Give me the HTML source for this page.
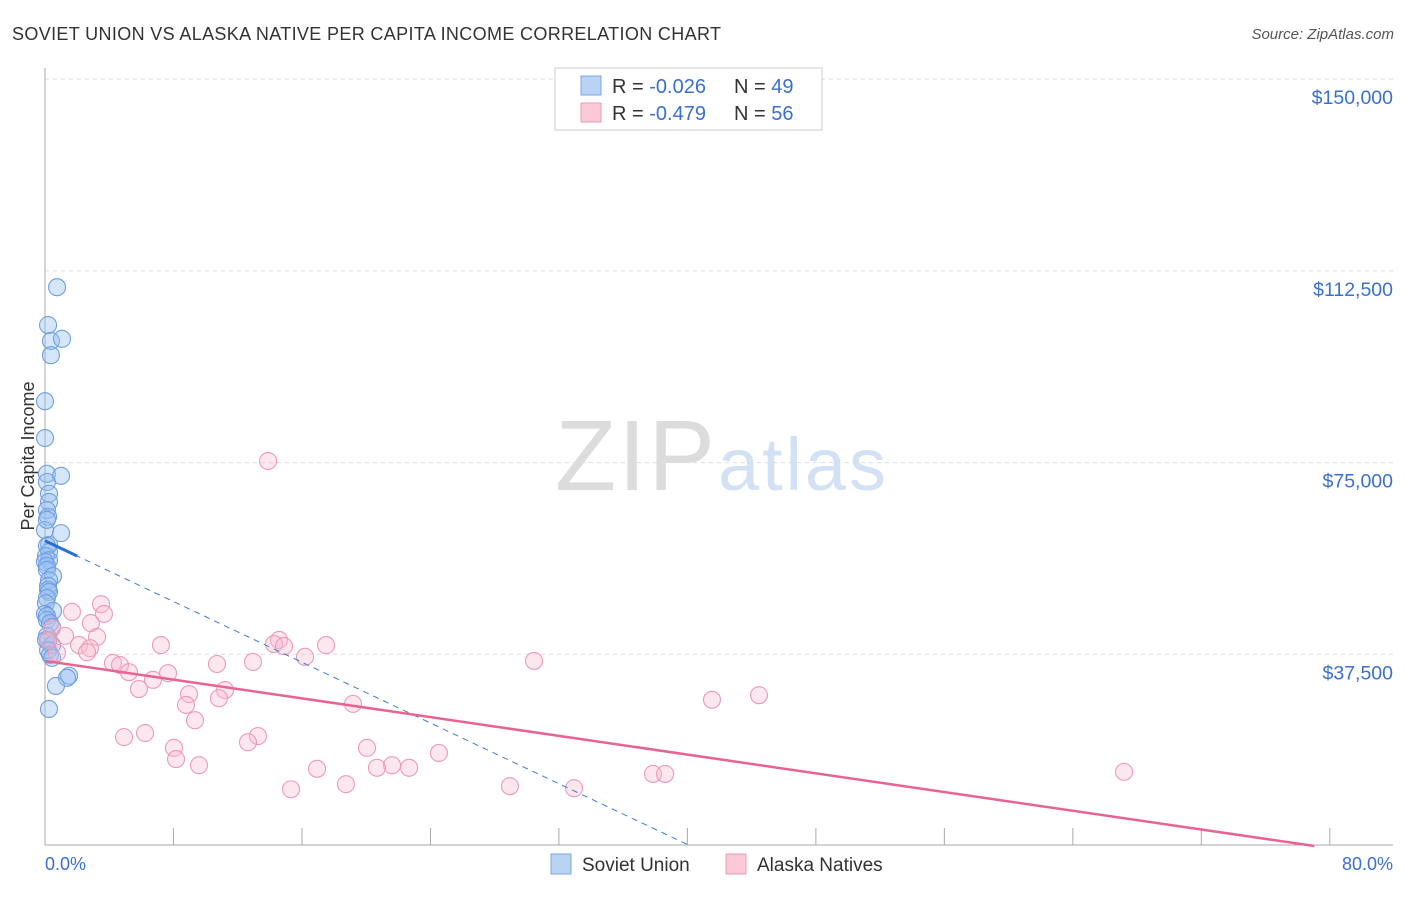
<!DOCTYPE html>
<html><head><meta charset="utf-8"><style>
body{margin:0;background:#fff;font-family:"Liberation Sans",sans-serif;}
svg text{font-family:"Liberation Sans",sans-serif;}
</style></head><body>
<svg id="chart" width="1406" height="892">
<text x="12" y="40" font-size="18" fill="#333" textLength="709">SOVIET UNION VS ALASKA NATIVE PER CAPITA INCOME CORRELATION CHART</text>
<text x="1394" y="39" font-size="15" fill="#555" text-anchor="end" font-style="italic">Source: ZipAtlas.com</text>
<text x="555" y="490" font-size="100" fill="#dcdcdc" textLength="160" font-family="Liberation Serif">ZIP</text>
<text x="718" y="490" font-size="74" fill="#d3e1f5" textLength="168">atlas</text>
<g id="grid"></g><g id="marks"></g>
<text transform="translate(34,456) rotate(-90)" font-size="18" fill="#333" text-anchor="middle">Per Capita Income</text>
<text x="45" y="870" font-size="18" fill="#3b6fd0">0.0%</text>
<text x="1393" y="870" font-size="18" fill="#3b6fd0" text-anchor="end">80.0%</text>
<g>
<rect x="555" y="68" width="267" height="62" fill="#fff" stroke="#ccc"/>
<rect x="581" y="76" width="20" height="19" fill="#b9d3f5" stroke="#7ba6e0"/>
<rect x="581" y="103" width="20" height="19" fill="#fbc9d8" stroke="#ee9ab5"/>
<text x="612" y="93" font-size="20" fill="#333">R = <tspan fill="#3b6fd0">-0.026</tspan><tspan x="734">N = </tspan><tspan fill="#3b6fd0">49</tspan></text>
<text x="612" y="120" font-size="20" fill="#333">R = <tspan fill="#3b6fd0">-0.479</tspan><tspan x="734">N = </tspan><tspan fill="#3b6fd0">56</tspan></text>
</g>
<g>
<rect x="551" y="854" width="20" height="20" fill="#b9d3f5" stroke="#7ba6e0"/>
<text x="582" y="871" font-size="19" fill="#333">Soviet Union</text>
<rect x="726" y="854" width="20" height="20" fill="#fbc9d8" stroke="#ee9ab5"/>
<text x="757" y="871" font-size="19" fill="#333">Alaska Natives</text>
</g>
</svg>
<script>
const yTicks=[37500,75000,112500,150000];
const yTickLabels=["$37,500","$75,000","$112,500","$150,000"];
const blueX=[0.75,0.19,0.37,1.06,0.37,0,0,0.12,1.0,0.12,0.25,0.25,0.12,0.19,1.0,0,0.12,0.25,0.12,0.25,0.06,0.25,0,0.12,0.12,0.5,0.25,0.19,0.19,0.25,0.12,0.06,0.5,0,0.12,0.12,0.31,0.44,0.12,0.06,0.19,0.44,0.19,0.31,0.44,1.5,1.37,0.68,0.25];
const blueY=[109300,101900,98800,99200,96000,87000,79800,72800,72400,71200,68900,67300,65700,64400,61200,61800,63800,58900,58700,57500,56700,55900,55600,54800,54000,52800,52000,50900,50100,49700,48500,47500,46000,45400,45000,44200,43600,42800,41100,40300,40100,39300,38300,37400,36800,33300,32900,31300,26800];
const pinkX=[13.89,3.49,1.68,3.67,2.86,0.44,3.24,1.25,14.57,14.26,7.22,17.5,14.88,2.12,2.8,2.62,0.75,16.19,30.45,4.23,4.67,10.71,12.95,5.23,7.66,6.72,5.85,11.21,8.97,10.83,44.46,41.53,8.78,19.18,9.34,6.23,4.92,13.26,12.64,8.03,20.05,24.53,8.16,9.59,21.61,20.67,22.67,16.94,67.19,37.86,38.61,18.74,28.95,32.94,15.32,0.19];
const pinkY=[75300,47300,45800,45400,43600,42600,40900,41100,40300,39500,39300,39300,39100,39300,38700,37900,37800,37000,36200,35800,35400,35600,36000,34000,33800,32500,30700,30500,29700,28900,29500,28600,27600,27800,24600,22100,21300,21500,20300,19200,19200,18200,17000,15800,15800,15300,15300,15100,14500,14100,14100,12100,11700,11300,11100,40300];
const blueTrend=[59700,-1485];
const pinkTrend=[36200,-458];
const NS="http://www.w3.org/2000/svg";
const sx=v=>45+v*16.06, sy=v=>846-v/195.6;
function mk(t,a,p){const e=document.createElementNS(NS,t);for(const k in a)e.setAttribute(k,a[k]);p.appendChild(e);return e;}
const grid=document.getElementById('grid'), marks=document.getElementById('marks');
yTicks.forEach((t,i)=>{
 const l=mk('line',{x1:45,x2:1393,y1:sy(t),y2:sy(t),stroke:'#ddd','stroke-dasharray':'4,4'},grid);
 
 
 const tx=mk('text',{x:1393,y:sy(t)+25,'font-size':19.5,fill:'#3b6fd0','text-anchor':'end'},grid);
 tx.textContent=yTickLabels[i];
 
 
});
let ax=mk('line',{x1:45,x2:45,y1:68,y2:845,stroke:'#aaa'},grid);


ax=mk('line',{x1:45,x2:1393,y1:845,y2:845,stroke:'#aaa'},grid);


for(let i=1;i<=10;i++){const t=mk('line',{x1:sx(i*8),x2:sx(i*8),y1:828,y2:845,stroke:'#aaa'},grid);
 
 }
blueX.forEach((x,i)=>{const c=mk('circle',{cx:sx(x),cy:sy(blueY[i]),r:8.5,fill:'rgba(150,190,242,0.4)',stroke:'#6f9fe0','stroke-width':1.1},marks);
 
 });
pinkX.forEach((x,i)=>{const c=mk('circle',{cx:sx(x),cy:sy(pinkY[i]),r:8.5,fill:'rgba(248,185,205,0.35)',stroke:'#ee9ab5','stroke-width':1.1},marks);
 
 });
const bEnd=-blueTrend[0]/blueTrend[1];
let ln=mk('line',{x1:sx(0),y1:sy(blueTrend[0]),x2:sx(bEnd),y2:sy(0),stroke:'#3b7bd8','stroke-width':1,'stroke-dasharray':'6,5'},marks);


ln=mk('line',{x1:sx(0),y1:sy(blueTrend[0]),x2:sx(2),y2:sy(blueTrend[0]+blueTrend[1]*2),stroke:'#2a6fd6','stroke-width':3},marks);


const pEnd=-pinkTrend[0]/pinkTrend[1];
ln=mk('line',{x1:sx(0),y1:sy(pinkTrend[0]),x2:sx(pEnd),y2:sy(0),stroke:'#e8638f','stroke-width':2.5},marks);


</script>
</body></html>
